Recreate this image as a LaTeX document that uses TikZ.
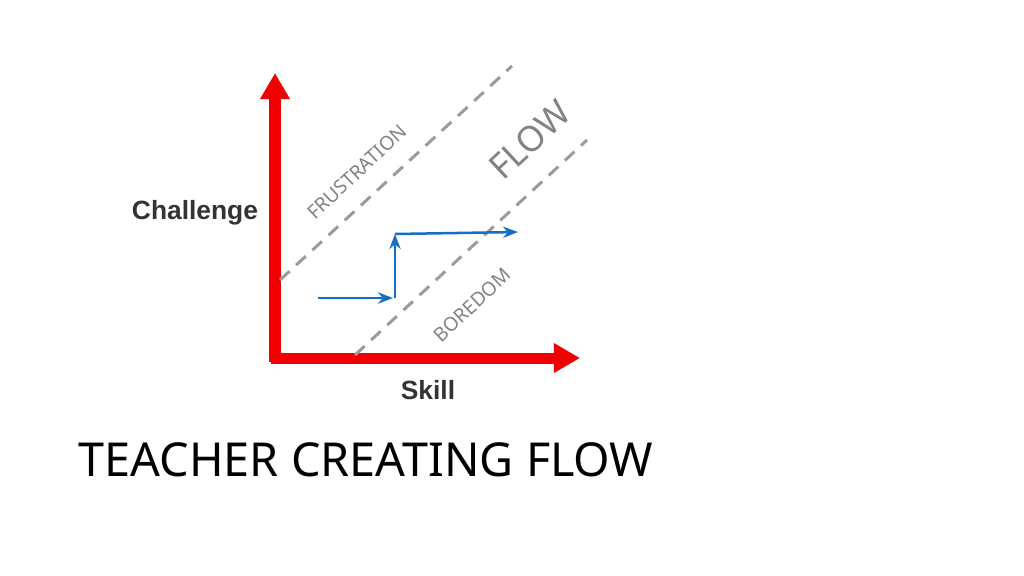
\documentclass[tikz,border=0pt]{standalone}
\usepackage{fontspec}
\setmainfont{Noto Sans}
\newfontfamily\axisfont{Liberation Sans}
\usetikzlibrary{positioning, arrows.meta, calc}
\definecolor{axisred}{RGB}{240,0,0}
\definecolor{flowblue}{RGB}{20,110,200}
\definecolor{zonegray}{RGB}{130,130,130}
\tikzset{
  axis/.style={line width=1.1mm, axisred, -{Triangle[length=2.6mm, width=2.8mm]}},
  zone/.style={dashed, dash pattern=on 1.3mm off 0.9mm, line width=0.3mm, zonegray!80},
  path/.style={line width=0.25mm, flowblue, -{Stealth[length=1.5mm]}},
  zonelabel/.style={zonegray, rotate=43, font=\fontsize{5.5}{6}\selectfont},
  axislabel/.style={font=\axisfont\bfseries\fontsize{7.5}{8}\selectfont, text=black!80}
}
\begin{document}
\begin{tikzpicture}[x=0.01cm, y=-0.01cm]
  \useasboundingbox (0,0) rectangle (1024,575);
  % Axes
  \coordinate (origin) at (275,358);
  \coordinate (ytop) at (275,73);
  \coordinate (xend) at (580,358);
  \draw[axis] ($(origin)+(0,4)$) -- (ytop);
  \draw[axis] ($(origin)+(-4,0)$) -- (xend);
  \node[axislabel] (challenge) at (195,213) {Challenge};
  \node[axislabel] (skill) at (428,390) {Skill};

  % Zones
  \coordinate (upA) at (280,280);
  \coordinate (upB) at (512,66);
  \coordinate (loA) at (355,355);
  \coordinate (loB) at (587,140);
  \draw[zone] (upA) -- (upB);
  \draw[zone] (loA) -- (loB);
  \node[zonelabel] (frustration) at (357,172) {FRUSTRATION};
  \node[zonelabel, font=\fontsize{10}{11}\selectfont] (flow) at (530,140) {FLOW};
  \node[zonelabel] (boredom) at (472,305) {BOREDOM};

  % Teacher path
  \coordinate (p0) at (318,298);
  \coordinate (p1) at (393,298);
  \coordinate (p2) at (395,298);
  \coordinate (p3) at (395,234);
  \coordinate (p4) at (518,232);
  \draw[path] (p0) -- (p1);
  \draw[path] (p2) -- (p3);
  \draw[path] (p3) -- (p4);

  \node[anchor=west, inner sep=0pt, font=\fontsize{13.3}{15}\selectfont] (title) at (78,460) {TEACHER CREATING FLOW};
\end{tikzpicture}
\end{document}
